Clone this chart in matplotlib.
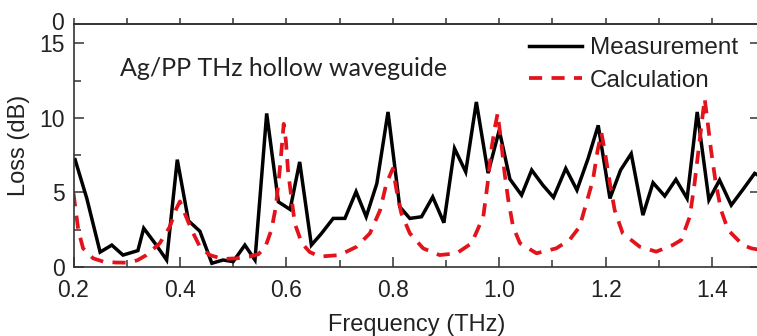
import numpy as np
import matplotlib
matplotlib.use("Agg")
import matplotlib.pyplot as plt
from matplotlib.ticker import MultipleLocator

plt.rcParams['font.family'] = ['Liberation Sans', 'DejaVu Sans']

# measured loss (black solid)
meas_freq = [0.203, 0.225, 0.25, 0.272, 0.293, 0.321, 0.332, 0.355, 0.375, 0.395,
             0.416, 0.4375, 0.46, 0.481, 0.50, 0.522, 0.541, 0.563, 0.585, 0.607,
             0.625, 0.647, 0.666, 0.688, 0.71, 0.731, 0.75, 0.77, 0.791, 0.813,
             0.832, 0.854, 0.875, 0.896, 0.916, 0.937, 0.957, 0.979, 1.0, 1.02,
             1.042, 1.061, 1.082, 1.102, 1.125, 1.146, 1.167, 1.186, 1.208, 1.228,
             1.248, 1.27, 1.289, 1.311, 1.332, 1.353, 1.372, 1.394, 1.414, 1.436,
             1.458, 1.48, 1.50]
meas_loss = [7.2, 4.6, 1.0, 1.47, 0.8, 1.1, 2.6, 1.5, 0.47, 7.2,
             3.1, 2.4, 0.25, 0.47, 0.36, 1.47, 0.47, 10.3, 4.37, 3.86,
             7.05, 1.47, 2.25, 3.26, 3.26, 5.05, 3.37, 5.6, 10.4, 4.04,
             3.26, 3.37, 4.7, 2.97, 7.95, 6.38, 11.07, 6.3, 9.18, 5.9,
             4.82, 6.5, 5.49, 4.67, 6.61, 5.16, 7.28, 9.5, 4.6, 6.5,
             7.6, 3.48, 5.65, 4.76, 5.87, 4.6, 10.4, 4.5, 5.83, 4.15,
             5.2, 6.28, 5.9]

# calculated loss (red dashed)
calc_freq = [0.2, 0.209, 0.218, 0.237, 0.256, 0.28, 0.30, 0.32, 0.337, 0.362,
             0.381, 0.393, 0.40, 0.409, 0.422, 0.4375, 0.456, 0.481, 0.506, 0.531,
             0.547, 0.56, 0.572, 0.58, 0.587, 0.592, 0.595, 0.599, 0.603, 0.61,
             0.616, 0.629, 0.644, 0.663, 0.70, 0.732, 0.757, 0.776, 0.788, 0.80,
             0.807, 0.816, 0.832, 0.857, 0.888, 0.92, 0.948, 0.97, 0.979, 0.985,
             0.992, 0.997, 1.004, 1.01, 1.017, 1.026, 1.039, 1.07, 1.107, 1.132,
             1.151, 1.176, 1.185, 1.192, 1.198, 1.208, 1.217, 1.232, 1.264, 1.295,
             1.326, 1.342, 1.358, 1.367, 1.376, 1.386, 1.392, 1.398, 1.407, 1.417,
             1.43, 1.458, 1.474, 1.49]
calc_loss = [4.94, 2.48, 1.25, 0.58, 0.36, 0.3, 0.29, 0.45, 0.8, 1.59,
             2.7, 3.9, 4.4, 3.6, 2.48, 1.36, 0.8, 0.54, 0.58, 0.7,
             0.85, 1.3, 2.5, 4.0, 6.3, 8.3, 9.6, 8.5, 6.5, 4.5,
             2.9, 1.6, 1.0, 0.7, 0.8, 1.36, 2.26, 3.8, 5.6, 6.6,
             5.16, 3.6, 2.26, 1.25, 0.8, 0.92, 1.59, 3.37, 5.83, 7.84,
             9.4, 10.3, 8.3, 6.3, 4.5, 2.7, 1.59, 0.92, 1.25, 1.81,
             2.7, 5.83, 7.84, 9.0, 7.84, 5.6, 3.8, 2.26, 1.36, 1.03,
             1.47, 1.81, 3.37, 5.6, 8.3, 11.3, 9.6, 7.84, 5.6, 3.8,
             2.48, 1.47, 1.25, 1.15]

W, H = 757, 336
fig = plt.figure(figsize=(W / 100, H / 100), dpi=100)
ax = fig.add_axes([73.5 / W, (H - 267) / H, 686.5 / W, 243 / H])

txt = "#222222"

ax.plot(meas_freq, meas_loss, color="black", lw=2.5, label="Measurement",
        solid_joinstyle="miter")
ax.plot(calc_freq, calc_loss, color="#e3131b", lw=2.7, dashes=(3.5, 2.5),
        label="Calculation")

ax.set_xlim(0.2, 1.49)
ax.set_ylim(0, 16.3)
ax.set_xticks([0.2, 0.4, 0.6, 0.8, 1.0, 1.2, 1.4])
ax.set_xticklabels(["0.2", "0.4", "0.6", "0.8", "1.0", "1.2", "1.4"])
ax.xaxis.set_minor_locator(MultipleLocator(0.1))
ax.set_yticks([0, 5, 10, 15])
ax.yaxis.set_minor_locator(MultipleLocator(2.5))

ax.tick_params(axis="both", which="both", direction="in", colors="#333333",
               labelcolor=txt, labelsize=16.5, width=1.1)
ax.tick_params(axis="both", which="major", length=7)
ax.tick_params(axis="both", which="minor", length=5)
ax.tick_params(axis="y", which="major", right=True)
ax.tick_params(axis="x", pad=8.5)
ax.tick_params(axis="y", pad=6)

top = ax.secondary_xaxis("top")
top.xaxis.set_major_locator(MultipleLocator(0.1))
top.tick_params(direction="out", length=4, width=1.1, labeltop=False,
                colors="#333333")
top.spines["top"].set_color("#333333")
top.spines["top"].set_linewidth(1.2)

for s in ax.spines.values():
    s.set_color("#333333")
    s.set_linewidth(1.2)

ax.set_xlabel("Frequency (THz)", fontsize=17, color=txt, labelpad=9)
ax.set_ylabel("Loss (dB)", fontsize=17, color=txt, labelpad=7)

# label of the panel above
fig.text(57 / W, 1 - 23 / H, "0", fontsize=16.5, color=txt,
         ha="center", va="center")

ax.text(120 / W, 1 - 68 / H, "Ag/PP THz hollow waveguide",
        transform=fig.transFigure, fontsize=18, family="Lato", color=txt,
        va="center", ha="left")

leg = ax.legend(loc="upper left", bbox_to_anchor=(529 / W, 1 - 37 / H),
                bbox_transform=fig.transFigure, frameon=False, fontsize=17.5,
                handlelength=2.2, handletextpad=0.3, labelspacing=0.45,
                borderpad=0, borderaxespad=0)
for t in leg.get_texts():
    t.set_color(txt)

fig.savefig("out.png", dpi=100)
